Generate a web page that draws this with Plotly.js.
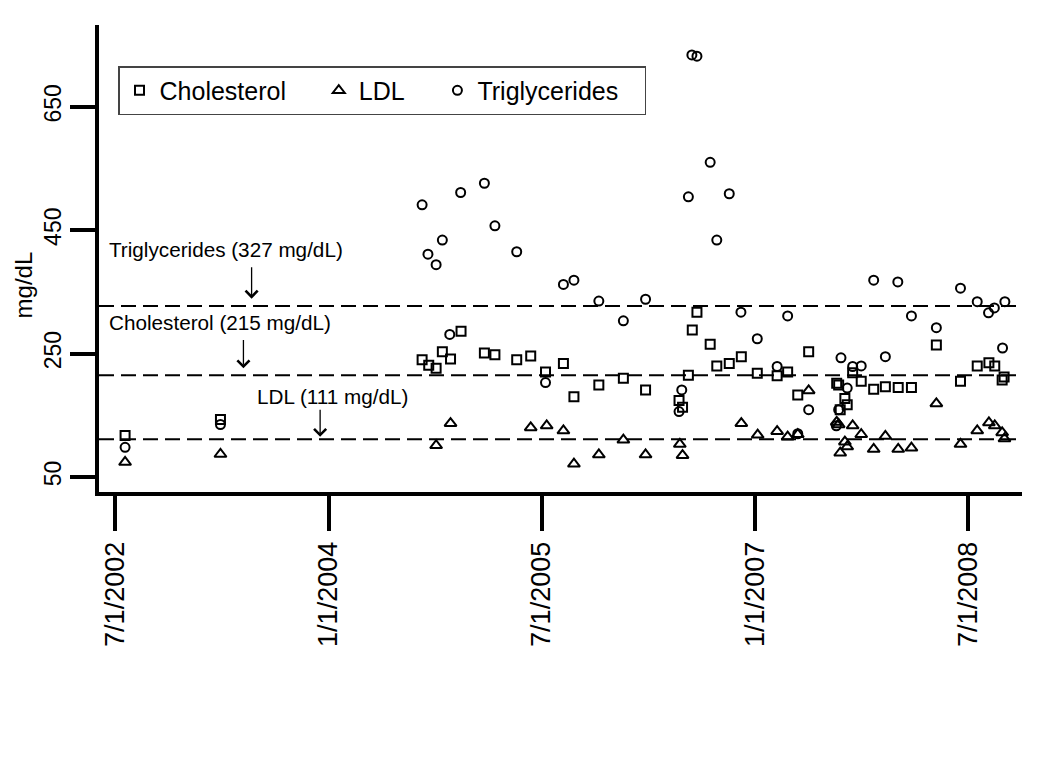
<!DOCTYPE html>
<html><head><meta charset="utf-8">
<script src="https://cdn.plot.ly/plotly-3.0.1.min.js"></script>
<style>html,body{margin:0;padding:0;background:#fff;}#chart{width:1050px;height:764px;}</style>
</head><body><div id="chart"></div>
<script>
const cholDates = ['2002-07-27','2003-03-29','2004-08-28','2004-09-14','2004-10-03','2004-10-19','2004-11-09','2004-12-06','2005-02-04','2005-03-03','2005-04-28','2005-06-03','2005-07-11','2005-08-26','2005-09-22','2005-11-25','2006-01-27','2006-03-25','2006-06-19','2006-06-28','2006-07-13','2006-07-23','2006-08-04','2006-09-07','2006-09-24','2006-10-26','2006-11-26','2007-01-06','2007-02-26','2007-03-25','2007-04-20','2007-05-18','2007-07-29','2007-08-03','2007-08-07','2007-08-19','2007-08-25','2007-09-08','2007-09-30','2007-11-01','2007-12-01','2008-01-03','2008-02-06','2008-04-10','2008-06-11','2008-07-24','2008-08-23','2008-09-07','2008-09-26','2008-10-01'];
const cholValues = [117,143,240,231,226,253,241,286,251,248,240,246,220,234,180,199,210,191,174,163,215,288,317,265,230,234,245,218,214,220,183,253,202,199,159,177,167,219,205,192,196,195,195,264,205,230,235,230,207,212];

const ldlDates = ['2002-07-27','2003-03-29','2004-10-03','2004-11-09','2005-06-03','2005-07-14','2005-08-26','2005-09-22','2005-11-25','2006-01-27','2006-03-25','2006-06-21','2006-06-28','2006-11-26','2007-01-07','2007-02-26','2007-03-25','2007-04-20','2007-05-18','2007-07-29','2007-08-03','2007-08-07','2007-08-19','2007-08-25','2007-09-08','2007-09-30','2007-11-01','2007-12-01','2008-01-03','2008-02-06','2008-04-10','2008-06-11','2008-07-24','2008-08-23','2008-09-07','2008-09-26','2008-10-02'];
const ldlValues = [74,87,101,137,130,133,125,71,86,110,86,103,85,137,118,124,115,119,190,139,135,89,107,99,133,119,95,116,95,97,169,103,125,138,133,122,112];

const trigDates = ['2002-07-27','2003-03-29','2004-08-28','2004-09-12','2004-10-03','2004-10-19','2004-11-07','2004-12-05','2005-02-04','2005-03-03','2005-04-28','2005-07-11','2005-08-26','2005-09-22','2005-11-25','2006-01-27','2006-03-25','2006-06-19','2006-06-26','2006-07-13','2006-07-22','2006-08-04','2006-09-07','2006-09-24','2006-10-26','2006-11-25','2007-01-06','2007-02-26','2007-03-25','2007-04-20','2007-05-18','2007-07-28','2007-08-03','2007-08-09','2007-08-25','2007-09-08','2007-09-30','2007-11-01','2007-12-01','2008-01-02','2008-02-06','2008-04-10','2008-06-11','2008-07-24','2008-08-22','2008-09-06','2008-09-27','2008-10-03'];
const trigValues = [98,135,491,411,394,434,281,511,526,457,415,203,362,369,335,303,338,156,191,504,734,732,560,434,509,317,274,229,311,120,159,133,159,243,194,229,230,369,245,366,311,292,356,334,316,324,259,334];

const refNames = ['Triglycerides','Cholesterol','LDL'];
const refValues = [327, 215, 111];
const tickDates = ['2002-07-01','2004-01-01','2005-07-01','2007-01-01','2008-07-01'];
const tickLabels = ['7/1/2002','1/1/2004','7/1/2005','1/1/2007','7/1/2008'];
const yTicks = [50, 250, 450, 650];
const yTitle = 'mg/dL';

const FONT = 'Liberation Sans, Arial, Helvetica, sans-serif';
const NB = '\u00a0';

function mk(name, x, y, symbol, size) {
  return {
    type: 'scatter', mode: 'markers', name: name, x: x, y: y,
    marker: {symbol: symbol, size: size, color: '#000', line: {width: 2, color: '#000'}},
    hoverinfo: 'x+y+name'
  };
}

const traces = [
  mk('Cholesterol' + NB.repeat(4), cholDates, cholValues, 'square-open', 9),
  mk('LDL' + NB.repeat(4), ldlDates, ldlValues, 'triangle-up-open', 10.5),
  mk('Triglycerides' + NB.repeat(3), trigDates, trigValues, 'circle-open', 9)
];

const shapes = refValues.map(v => ({
  type: 'line', xref: 'paper', x0: 0, x1: 1, yref: 'y', y0: v, y1: v,
  line: {color: '#000', width: 2, dash: '15px,7px'}
}));

// label placement only
const labelPos = [
  {x: '2002-06-10', y: 418, ax: '2003-06-17', ayTail: 393, ayHead: 339},
  {x: '2002-06-10', y: 300, ax: '2003-05-27', ayTail: 275, ayHead: 226},
  {x: '2003-06-25', y: 180, ax: '2003-12-10', ayTail: 162, ayHead: 115}
];
const annotations = [];
refNames.forEach((n, i) => {
  const p = labelPos[i];
  annotations.push({
    xref: 'x', yref: 'y', x: p.x, y: p.y, xanchor: 'left', yanchor: 'middle',
    text: n + ' (' + refValues[i] + ' mg/dL)', showarrow: false,
    font: {family: FONT, size: 20.7, color: '#000'}
  });
  annotations.push({
    xref: 'x', yref: 'y', x: p.ax, y: p.ayHead, axref: 'x', ayref: 'y', ax: p.ax, ay: p.ayTail,
    text: ' ', showarrow: true, arrowhead: 4, arrowsize: 1.8, arrowwidth: 1.3, arrowcolor: '#000',
    font: {size: 1}
  });
});
// y-axis label, placed below the 450 tick label as in the original
annotations.push({
  xref: 'paper', yref: 'paper', x: -0.082, y: 0.443, xanchor: 'center', yanchor: 'middle',
  text: yTitle, textangle: -90, showarrow: false,
  font: {family: FONT, size: 24, color: '#000'}
});

const layout = {
  width: 1050, height: 764,
  margin: {l: 99, r: 28, t: 25, b: 272},
  paper_bgcolor: '#fff', plot_bgcolor: '#fff',
  font: {family: FONT, color: '#000'},
  showlegend: true,
  legend: {
    orientation: 'h', x: 0.0206, xanchor: 'left', y: 0.912, yanchor: 'top',
    bordercolor: '#444', borderwidth: 1.5, bgcolor: '#fff',
    font: {family: FONT, size: 25, color: '#000'}
  },
  xaxis: {
    type: 'date', range: ['2002-05-21', '2008-11-16'],
    tickmode: 'array', tickvals: tickDates, ticktext: tickLabels, tickangle: -90,
    ticks: 'outside', ticklen: 35, tickwidth: 4, tickcolor: '#000',
    showline: true, linewidth: 4, linecolor: '#000',
    showgrid: false, zeroline: false,
    tickfont: {family: FONT, size: 27, color: '#000'}
  },
  yaxis: {
    range: [25.6, 782.5],
    tickmode: 'array', tickvals: yTicks, ticktext: yTicks.map(String), tickangle: -90,
    ticks: 'outside', ticklen: 25, tickwidth: 4, tickcolor: '#000',
    showline: true, linewidth: 4, linecolor: '#000',
    showgrid: false, zeroline: false,
    tickfont: {family: FONT, size: 23, color: '#000'}
  },
  shapes: shapes,
  annotations: annotations
};

Plotly.newPlot('chart', traces, layout, {displayModeBar: false, responsive: false});
</script>
</body></html>
